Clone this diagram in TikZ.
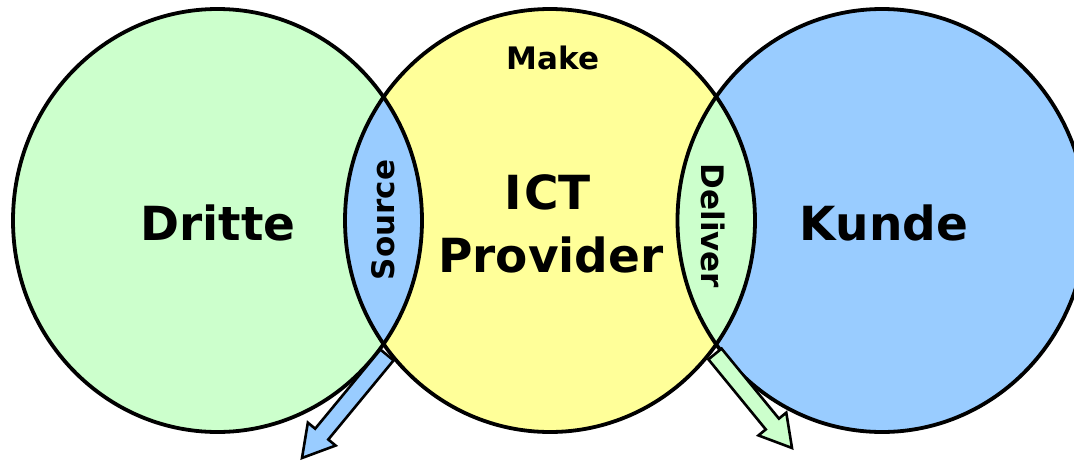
\documentclass[tikz,border=0pt]{standalone}
\usepackage{fontspec}
\setmainfont{DejaVu Sans}
\usetikzlibrary{calc}
\definecolor{cgreen}{HTML}{CCFFCC}
\definecolor{cyellow}{HTML}{FFFF99}
\definecolor{cblue}{HTML}{99CCFF}
\tikzset{
  outline/.style={draw=black, line width=3.8pt},
  bigtext/.style={font=\bfseries\fontsize{47}{62}\selectfont, inner sep=0pt},
  smalltext/.style={font=\bfseries\fontsize{31}{36}\selectfont, inner sep=0pt},
  blockarrow/.style={draw=black, line width=2.6pt, line join=miter},
}
\newcommand\myblockarrow[3]{%
  \coordinate (hb) at ($(#2)!31pt!(#1)$);
  \path[blockarrow, fill=#3]
    ($(#1)!8.5pt!90:(#2)$) -- ($(hb)!8.5pt!-90:(#1)$) -- ($(hb)!18pt!-90:(#1)$)
    -- (#2) -- ($(hb)!18pt!90:(#1)$) -- ($(hb)!8.5pt!90:(#1)$)
    -- ($(#1)!8.5pt!-90:(#2)$) -- cycle;
}
\begin{document}
\begin{tikzpicture}[x=1pt,y=-1pt]
\useasboundingbox (0,0) rectangle (1074,461);
\begin{scope}
\clip (0,0) rectangle (1074,461);
\def\ellL{(217.5,220.5) ellipse [x radius=204.5pt, y radius=211.5pt]}
\def\ellM{(550,220.5) ellipse [x radius=205pt, y radius=211.5pt]}
\def\ellR{(882,220.5) ellipse [x radius=204.5pt, y radius=211.5pt]}
\fill[cgreen] \ellL;
\fill[cyellow] \ellM;
\fill[cblue] \ellR;
\begin{scope}
  \clip \ellL;
  \fill[cblue] \ellM;
\end{scope}
\begin{scope}
  \clip \ellM;
  \fill[cgreen] \ellR;
\end{scope}
\draw[outline] \ellL;
\draw[outline] \ellM;
\draw[outline] \ellR;
\end{scope}

\node[bigtext, anchor=base] (dritte) at (218,240) {Dritte};
\node[bigtext, anchor=base] (kunde) at (884,240) {Kunde};
\node[bigtext, anchor=base] (ict) at (548,209) {I\kern2pt CT};
\node[bigtext, anchor=base] (provider) at (551,272) {Provider};
\node[smalltext, anchor=base] (make) at (553,69) {Make};
\node[smalltext, rotate=90] (source) at (383,220) {Source};
\node[smalltext, rotate=-90] (deliver) at (713,226) {Deliver};

\coordinate (lt) at (387,355);
\coordinate (lp) at (302,458);
\coordinate (rt) at (715,354);
\coordinate (rp) at (792,448);
\myblockarrow{lt}{lp}{cblue}
\myblockarrow{rt}{rp}{cgreen}
\end{tikzpicture}
\end{document}
